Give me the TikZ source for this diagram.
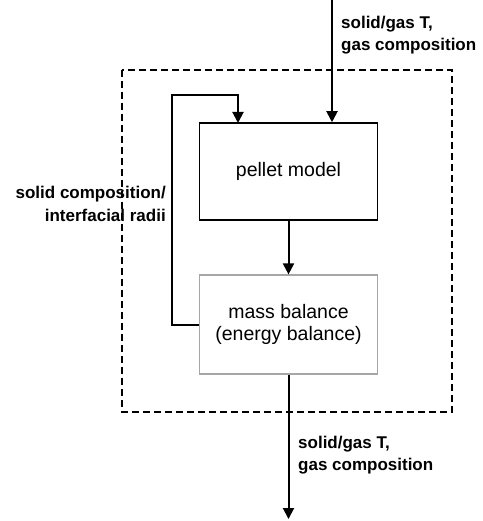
\documentclass[tikz,border=0pt]{standalone}
\usepackage{fontspec}
\setmainfont{Liberation Sans}
\usetikzlibrary{arrows.meta}

\tikzset{
  block/.style={draw, line width=1.6pt, minimum width=178pt, minimum height=97pt,
    font=\fontsize{19.5}{22}\selectfont, align=center, inner sep=0pt},
  softblock/.style={block, draw=black!35, line width=1.2pt},
  flow/.style={line width=2pt, -{Triangle[length=11pt,width=11pt]}},
  tag/.style={font=\fontsize{17}{22.5}\selectfont\bfseries, inner sep=0pt}
}

\begin{document}
\begin{tikzpicture}[x=1pt,y=-1pt]
\useasboundingbox (0,0) rectangle (482,521);
% system boundary
\draw [line width=1.6pt, dash pattern=on 7pt off 4pt] (122,70) rectangle (452,412);
% blocks
\node [block] (pellet) at (288.5,171.5) {pellet model};
\node [softblock, minimum height=99pt] (mass) at (288.5,324.5) {mass balance\\(energy balance)};
% free ends
\coordinate (in) at (332,0);
\coordinate (out) at (288.5,519);
\coordinate (loop) at (172,95);
\coordinate (back) at (238,123);
% connectors
\draw [flow] (in) -- (in |- pellet.north);
\draw [flow] (pellet) -- (mass);
\draw [flow] (mass) -- (out);
\draw [flow] (mass.west) -| (loop) -| (back);
% labels
\node [tag, anchor=west, align=left] (inlabel) at (341,35) {solid/gas T,\\gas composition};
\node [tag, anchor=east, align=right] (looplabel) at (166,204) {solid composition/\\interfacial radii};
\node [tag, anchor=west, align=left] (outlabel) at (298,455) {solid/gas T,\\gas composition};
\end{tikzpicture}
\end{document}
